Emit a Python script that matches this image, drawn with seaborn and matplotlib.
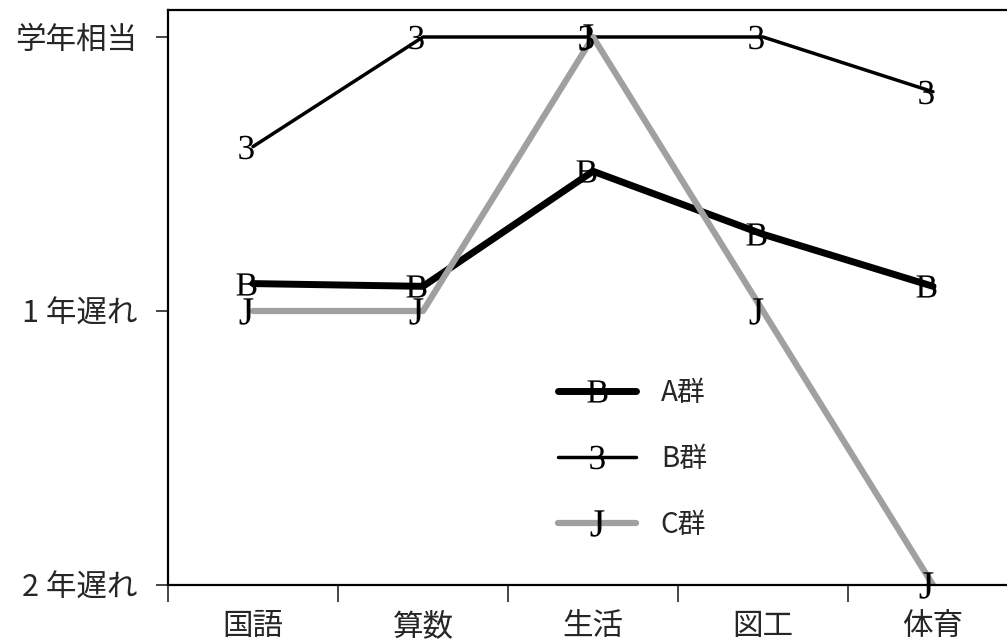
import numpy as np
import pandas as pd
import matplotlib
matplotlib.use("Agg")
import matplotlib.pyplot as plt
import seaborn as sns
from matplotlib.lines import Line2D
from matplotlib.transforms import ScaledTranslation

subjects = ["国語", "算数", "生活", "図工", "体育"]
groups = ["A群", "B群", "C群"]
a_vals = [-0.90, -0.91, -0.49, -0.72, -0.91]
b_vals = [-0.40, 0.0, 0.0, 0.0, -0.20]
c_vals = [-1.0, -1.0, 0.0, -1.0, -2.0]
y_ticks = [0, -1, -2]
y_labels = ["学年相当", "1 年遅れ", "2 年遅れ"]

colors = {"A群": "black", "B群": "black", "C群": "#a0a0a0"}
widths = {"A群": 5.0, "B群": 2.5, "C群": 4.5}
markers = {"A群": r"$\mathrm{B}$", "B群": r"$\mathrm{3}$", "C群": r"$\mathrm{J}$"}
msizes = {"A群": 16, "B群": 17, "C群": 19}

df = pd.DataFrame({
    "subject": subjects * 3,
    "group": np.repeat(groups, len(subjects)),
    "value": a_vals + b_vals + c_vals,
})
df["pos"] = df["subject"].map({s: i for i, s in enumerate(subjects)})

sns.set_style("white")
plt.rcParams["font.family"] = ["Noto Sans CJK JP", "DejaVu Sans"]
plt.rcParams["mathtext.fontset"] = "custom"
plt.rcParams["mathtext.rm"] = "Liberation Serif"

fig = plt.figure(figsize=(10.07, 6.39), dpi=100)
ax = fig.add_axes([168 / 1007, 1 - 585 / 639, 850 / 1007, 575 / 639])

# markers sit a little left of the line vertices, like the original
shift = ax.transData + ScaledTranslation(-0.07, 0, fig.dpi_scale_trans)

for g in groups:
    sub = df[df["group"] == g]
    sns.lineplot(data=sub, x="pos", y="value", color=colors[g],
                 linewidth=widths[g], ax=ax, legend=False, zorder=2)
for g in groups:
    sub = df[df["group"] == g]
    ax.plot(sub["pos"], sub["value"], linestyle="none", marker=markers[g],
            markersize=msizes[g], color="black", mec="black", mew=0,
            transform=shift, zorder=5, clip_on=False)

ax.set_xlim(-0.5, 4.5)
ax.set_ylim(-2, 0.0985)
ax.set_xticks(np.arange(-0.5, 5, 1))
ax.set_xticklabels([])
ax.set_xticks(np.arange(len(subjects)), minor=True)
ax.set_xticklabels(subjects, minor=True, fontsize=22)
ax.tick_params(axis="x", which="major", length=12, width=1.2, direction="out", bottom=True)
ax.tick_params(axis="x", which="minor", length=0, pad=19)
ax.set_yticks(y_ticks)
ax.set_yticklabels(y_labels, fontsize=22)
ax.tick_params(axis="y", length=9, width=1.2, direction="out", left=True, pad=13)
ax.set_xlabel("")
ax.set_ylabel("")

for side in ["left", "bottom", "top"]:
    ax.spines[side].set_visible(True)
    ax.spines[side].set_linewidth(1.6)
    ax.spines[side].set_color("black")
ax.spines["right"].set_visible(False)

handles = [Line2D([0], [0], color=colors[g], lw=widths[g], marker=markers[g],
                  markersize=msizes[g], mfc="black", mec="black", mew=0)
           for g in groups]
fig.legend(handles, groups, loc="center left",
           bbox_to_anchor=(558 / 1007, 1 - 459 / 639), frameon=False,
           fontsize=20, handlelength=2.8, handletextpad=0.9,
           labelspacing=1.3, borderpad=0, borderaxespad=0)

fig.savefig("out.png", dpi=100)
